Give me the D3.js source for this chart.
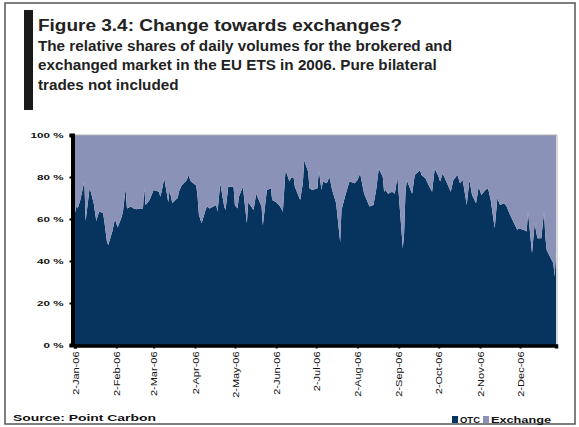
<!DOCTYPE html>
<html>
<head>
<meta charset="utf-8">
<script src="https://cdn.jsdelivr.net/npm/d3@7"></script>
<style>
  body { margin: 0; background: #fff; }
  svg { display: block; }
  text { font-family: "Liberation Sans", Arial, sans-serif; }
</style>
</head>
<body>
<div class="chart"></div>
<script>
// OTC share of daily volume (%); exchange = the rest up to 100
const dates = [
  "2006-01-02","2006-01-03","2006-01-04","2006-01-06","2006-01-09","2006-01-10","2006-01-13","2006-01-16",
  "2006-01-18","2006-01-20","2006-01-23","2006-01-24","2006-01-26","2006-01-27","2006-01-30","2006-02-01",
  "2006-02-03","2006-02-06","2006-02-07","2006-02-09","2006-02-10","2006-02-13","2006-02-15","2006-02-17",
  "2006-02-20","2006-02-22","2006-02-23","2006-02-24","2006-02-27","2006-03-02","2006-03-06","2006-03-07",
  "2006-03-08","2006-03-10","2006-03-13","2006-03-14","2006-03-16","2006-03-20","2006-03-21","2006-03-23",
  "2006-03-27","2006-03-28","2006-03-30","2006-04-03","2006-04-04","2006-04-05","2006-04-07","2006-04-10",
  "2006-04-11","2006-04-13","2006-04-18","2006-04-19","2006-04-21","2006-04-24","2006-04-25","2006-04-27",
  "2006-05-01","2006-05-02","2006-05-04","2006-05-05","2006-05-08","2006-05-11","2006-05-12","2006-05-16",
  "2006-05-18","2006-05-22","2006-05-23","2006-05-26","2006-05-29","2006-05-30","2006-06-02","2006-06-05",
  "2006-06-07","2006-06-09","2006-06-12","2006-06-13","2006-06-15","2006-06-16","2006-06-20","2006-06-22",
  "2006-06-23","2006-06-26","2006-06-27","2006-06-29","2006-07-03","2006-07-04","2006-07-06","2006-07-07",
  "2006-07-10","2006-07-12","2006-07-14","2006-07-17","2006-07-20","2006-07-21","2006-07-24","2006-07-27",
  "2006-07-31","2006-08-02","2006-08-04","2006-08-07","2006-08-09","2006-08-11","2006-08-14","2006-08-16",
  "2006-08-18","2006-08-21","2006-08-22","2006-08-23","2006-08-25","2006-08-28","2006-08-30","2006-09-01",
  "2006-09-04","2006-09-05","2006-09-06","2006-09-07","2006-09-08","2006-09-12","2006-09-14","2006-09-18",
  "2006-09-19","2006-09-22","2006-09-25","2006-09-27","2006-09-29","2006-10-02","2006-10-03","2006-10-05",
  "2006-10-09","2006-10-11","2006-10-13","2006-10-16","2006-10-18","2006-10-20","2006-10-23","2006-10-25",
  "2006-10-27","2006-10-30","2006-11-01","2006-11-03","2006-11-06","2006-11-08","2006-11-10","2006-11-13",
  "2006-11-15","2006-11-17","2006-11-20","2006-11-22","2006-11-24","2006-11-27","2006-11-30","2006-12-01",
  "2006-12-05","2006-12-07","2006-12-08","2006-12-11","2006-12-13","2006-12-15","2006-12-18","2006-12-20",
  "2006-12-21","2006-12-22","2006-12-27","2006-12-28","2006-12-29"
];
const otcShare = [
  63, 66, 65, 69, 78, 59, 75, 67.6,
  59, 63.5, 63, 59, 49, 47.6, 54, 60,
  56, 61, 63.5, 74.6, 65, 66, 65, 64.6,
  65, 65, 74.6, 66.7, 69, 73.8, 73, 70.6,
  73, 79.4, 68, 73.8, 67.6, 70, 73, 76,
  78.6, 81, 77.8, 76, 70.6, 62, 58, 64.3,
  66, 65, 66.7, 63.5, 77, 66, 64.3, 75.4,
  75.4, 66.7, 65, 70.6, 75.4, 58, 68, 64.3,
  72, 66, 57, 73.8, 74.6, 69, 68, 66,
  63.5, 83.3, 77.8, 79.4, 80, 75.4, 69, 77,
  88, 82.5, 74.6, 73.8, 74.6, 83.3, 73.8, 77.8,
  77, 80, 73.8, 67.5, 49, 64.3, 71.4, 77.8,
  77, 78.6, 81.7, 72, 69, 66, 66.7, 73.8,
  84, 80, 73, 73.8, 72, 73, 72, 80,
  54.8, 46, 53, 72, 78.6, 72, 81, 83.3,
  81, 79.4, 75.4, 73, 84, 80, 77.8, 81.7,
  76, 73, 78.6, 81, 77, 78.6, 66.7, 78.6,
  71.4, 67.5, 75.4, 71.4, 73.8, 74.6, 69, 55.6,
  70, 66.7, 67.5, 66, 62.7, 58.7, 54.8, 55.6,
  54.8, 54, 63.5, 43.7, 58, 50.8, 50.8, 63.5,
  51.6, 45.2, 38.9, 32.5, 45
];

const monthTicks = ["2006-01-02","2006-02-02","2006-03-02","2006-04-02","2006-05-02","2006-06-02",
  "2006-07-02","2006-08-02","2006-09-02","2006-10-02","2006-11-02","2006-12-02"];
const yTicks = [0, 20, 40, 60, 80, 100];
const seriesNames = ["OTC", "Exchange"];
const seriesColors = ["#07335f", "#8a92b8"];

const titleText = "Figure 3.4: Change towards exchanges?";
const subtitleLines = [
  "The relative shares of daily volumes for the brokered and",
  "exchanged market in the EU ETS in 2006. Pure bilateral",
  "trades not included"
];
const sourceText = "Source: Point Carbon";

const width = 579, height = 427;
const parse = d3.timeParse("%Y-%m-%d");
const fmt = d3.timeFormat("%-d-%b-%y");

const rows = dates.map((d, i) => ({ date: parse(d), OTC: otcShare[i], Exchange: 100 - otcShare[i] }));

const svg = d3.select(".chart").append("svg")
  .attr("width", width)
  .attr("height", height);

// stretch text horizontally to the width seen in the scan
function fitWidth(sel, w) {
  sel.attr("textLength", w).attr("lengthAdjust", "spacingAndGlyphs");
}
function stretch(sel, k) {
  sel.each(function() {
    const w = this.getComputedTextLength();
    d3.select(this).attr("textLength", w * k).attr("lengthAdjust", "spacingAndGlyphs");
  });
}

// outer frame
svg.append("rect")
  .attr("x", 5).attr("y", 3)
  .attr("width", 570).attr("height", 421)
  .attr("fill", "none")
  .attr("stroke", "#555")
  .attr("stroke-width", 1.5);

// black marker bar next to the title
svg.append("rect")
  .attr("x", 24).attr("y", 10)
  .attr("width", 9).attr("height", 100)
  .attr("fill", "#1a1a1a");

svg.append("text")
  .attr("x", 38).attr("y", 31)
  .style("font-size", "16px").style("font-weight", "bold")
  .attr("fill", "#222")
  .text(titleText)
  .call(fitWidth, 364);

// subtitle: same stretch for every line, taken from the first line's width
const subs = subtitleLines.map((line, i) =>
  svg.append("text")
    .attr("x", 38).attr("y", 50.5 + i * 19.5)
    .style("font-size", "14px").style("font-weight", "bold")
    .attr("fill", "#222")
    .text(line));
const subK = 414 / subs[0].node().getComputedTextLength();
subs.forEach(s => s.call(stretch, subK));

// scales
const x = d3.scaleTime()
  .domain([parse("2006-01-02"), parse("2006-12-29")])
  .range([75, 556]);
const y = d3.scaleLinear()
  .domain([0, 100])
  .range([345, 135]);

const stack = d3.stack().keys(seriesNames);
const layers = stack(rows);

const area = d3.area()
  .x(d => x(d.data.date))
  .y0(d => y(d[0]))
  .y1(d => y(d[1]));

svg.append("g")
  .selectAll("path")
  .data(layers)
  .join("path")
  .attr("d", area)
  .attr("fill", (d, i) => seriesColors[i]);

// plot-area border (top and right)
svg.append("path")
  .attr("d", `M${x.range()[0]},${y(100)}H${x.range()[1] + 1}V${y(0)}`)
  .attr("fill", "none")
  .attr("stroke", "#b0b0b0")
  .attr("stroke-width", 1);

// y axis
const yAxis = svg.append("g")
  .attr("transform", `translate(72.5,0)`)
  .call(d3.axisLeft(y).tickValues(yTicks).tickSize(3).tickFormat(d => d + " %"));
yAxis.select(".domain").attr("stroke", "#000").attr("stroke-width", 4);
yAxis.selectAll(".tick line").attr("stroke", "#000").attr("stroke-width", 2);
yAxis.selectAll(".tick text")
  .attr("x", -9)
  .style("font-size", "8px").style("font-weight", "bold")
  .attr("fill", "#111")
  .call(stretch, 1.45);

// x axis
const xAxis = svg.append("g")
  .attr("transform", `translate(0,${y(0) + 0.5})`)
  .call(d3.axisBottom(x).tickValues(monthTicks.map(parse)).tickSize(3).tickFormat(fmt));
xAxis.select(".domain").attr("stroke", "#000").attr("stroke-width", 3.5);
xAxis.selectAll(".tick line").attr("stroke", "#000").attr("stroke-width", 2);
xAxis.selectAll(".tick text")
  .attr("transform", "rotate(-90)")
  .attr("x", -6).attr("y", 0).attr("dy", "0.35em")
  .attr("text-anchor", "end")
  .style("font-size", "9px")
  .attr("fill", "#111")
  .call(stretch, 1.22);

// source note
svg.append("text")
  .attr("x", 13).attr("y", 421)
  .style("font-size", "8.5px").style("font-weight", "bold")
  .attr("fill", "#111")
  .text(sourceText)
  .call(fitWidth, 143);

// legend
const legendX = [452, 483];
const legendTextW = [20, 60];
seriesNames.forEach((name, i) => {
  svg.append("rect")
    .attr("x", legendX[i]).attr("y", 416)
    .attr("width", 6).attr("height", 7)
    .attr("fill", seriesColors[i]);
  svg.append("text")
    .attr("x", legendX[i] + 8).attr("y", 423)
    .style("font-size", "9px").style("font-weight", "bold")
    .attr("fill", "#111")
    .text(name)
    .call(fitWidth, legendTextW[i]);
});
</script>
</body>
</html>
